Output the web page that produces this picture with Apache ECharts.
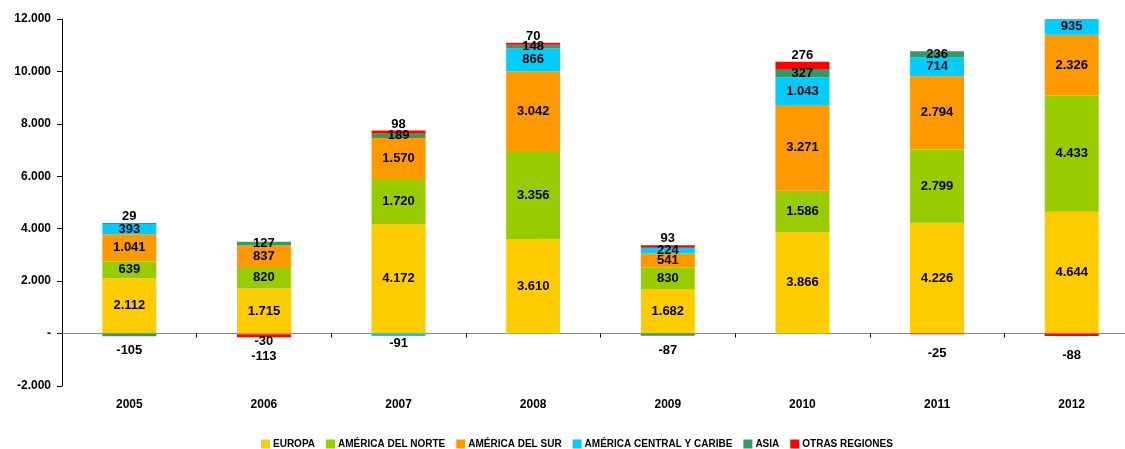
<!DOCTYPE html>
<html>
<head>
<meta charset="utf-8">
<script src="https://cdn.jsdelivr.net/npm/echarts@6/dist/echarts.min.js"></script>
<style>
  html, body { margin: 0; padding: 0; background: #fff; }
  #chart { width: 1125px; height: 449px; }
</style>
</head>
<body>
<div id="chart"></div>
<script>
var years = ['2005', '2006', '2007', '2008', '2009', '2010', '2011', '2012'];

var europa       = [2112, 1715, 4172, 3610, 1682, 3866, 4226, 4644];
var americaNorte = [639, 820, 1720, 3356, 830, 1586, 2799, 4433];
var americaSur   = [1041, 837, 1570, 3042, 541, 3271, 2794, 2326];
var americaCentral = [393, -30, -91, 866, 224, 1043, 714, 935];
var asia         = [-105, 127, 189, 148, -87, 327, 236, null];
var otras        = [29, -113, 98, 70, 93, 276, -25, -88];

var yTicks = [-2000, 0, 2000, 4000, 6000, 8000, 10000, 12000];

var FONT = '"Liberation Sans", Arial, sans-serif';

function fmt(v) {
  if (v === 0) return '-';
  var s = String(Math.abs(v)).replace(/\B(?=(\d{3})+(?!\d))/g, '.');
  return (v < 0 ? '-' : '') + s;
}

// negative values get their label below the axis
function makeData(values, negDistance) {
  return values.map(function (v) {
    if (v != null && v < 0) {
      return { value: v, label: { position: 'bottom', distance: negDistance } };
    }
    return v;
  });
}

function makeSeries(name, values, color, posLabel, negDistance) {
  return {
    name: name,
    type: 'bar',
    stack: 'total',
    barWidth: 54,
    itemStyle: { color: color },
    label: {
      show: true,
      position: posLabel,
      distance: 0,
      color: '#000',
      fontFamily: FONT,
      fontWeight: 'bold',
      fontSize: 13,
      formatter: function (p) { return fmt(p.value); }
    },
    data: makeData(values, negDistance)
  };
}

var myChart = echarts.init(document.getElementById('chart'));

var option = {
  backgroundColor: '#fff',
  animation: false,
  textStyle: { fontFamily: FONT },
  grid: { left: 62, top: 19, width: 1077, height: 367, outerBoundsMode: 'none', containLabel: false },
  legend: {
    top: 434,
    left: 256,
    icon: 'rect',
    itemWidth: 9,
    itemHeight: 9,
    itemGap: 11,
    textStyle: { fontFamily: FONT, fontWeight: 'bold', fontSize: 10, color: '#000', padding: [0, 0, 0, -2] },
    data: ['EUROPA', 'AMÉRICA DEL NORTE', 'AMÉRICA DEL SUR', 'AMÉRICA CENTRAL Y CARIBE', 'ASIA', 'OTRAS REGIONES']
  },
  xAxis: [
    {
      // axis through zero: line and ticks only
      type: 'category',
      data: years,
      axisLine: { onZero: true, lineStyle: { color: '#868686', width: 1 } },
      axisTick: { show: true, length: 4, lineStyle: { color: '#000' } },
      axisLabel: { show: false },
      splitLine: { show: false }
    },
    {
      // year labels at the bottom of the plot
      type: 'category',
      data: years,
      position: 'bottom',
      axisLine: { show: false, onZero: false },
      axisTick: { show: false },
      axisLabel: { margin: 13, color: '#000', fontWeight: 'bold', fontSize: 12 },
      splitLine: { show: false }
    }
  ],
  yAxis: {
    type: 'value',
    min: yTicks[0],
    max: yTicks[yTicks.length - 1],
    interval: 2000,
    axisLine: { show: true, lineStyle: { color: '#000' } },
    axisTick: { show: true, length: 5, lineStyle: { color: '#000' } },
    axisLabel: {
      margin: 11,
      color: '#000',
      fontWeight: 'bold',
      fontSize: 12,
      formatter: fmt
    },
    splitLine: { show: false }
  },
  series: [
    makeSeries('EUROPA', europa, '#FFCC00', 'inside', 6),
    makeSeries('AMÉRICA DEL NORTE', americaNorte, '#99CC00', 'inside', 6),
    makeSeries('AMÉRICA DEL SUR', americaSur, '#FF9900', 'inside', 6),
    makeSeries('AMÉRICA CENTRAL Y CARIBE', americaCentral, '#00CCFF', 'inside', 1),
    makeSeries('ASIA', asia, '#339966', 'inside', 8),
    makeSeries('OTRAS REGIONES', otras, '#FF0000', 'top', 13)
  ]
};

myChart.setOption(option);
</script>
</body>
</html>
